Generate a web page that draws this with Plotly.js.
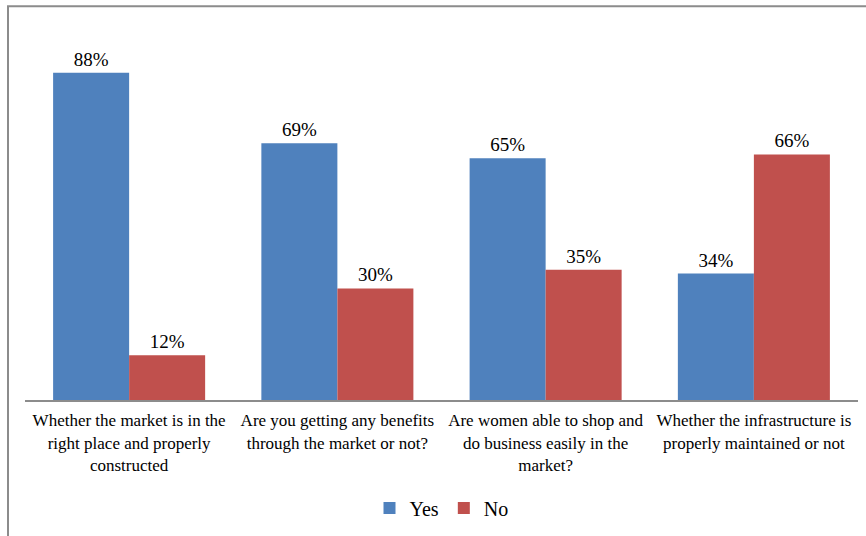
<!DOCTYPE html>
<html><head><meta charset="utf-8">
<script src="https://cdn.plot.ly/plotly-3.0.1.min.js"></script>
<style>html,body{margin:0;padding:0;background:#fff}#c{width:866px;height:536px}</style>
</head><body><div id="c"></div>
<script>
const categories = [
  "Whether the market is in the<br>right place and properly<br>constructed",
  "Are you getting any benefits<br>through the market or not?",
  "Are women able to shop and<br>do business easily in the<br>market?",
  "Whether the infrastructure is<br>properly maintained or not"
];
const yesValues = [88, 69, 65, 34];
const noValues = [12, 30, 35, 66];
const seriesNames = ["Yes", "No"];
const colors = ["#4F81BD", "#C0504D"];

const font = {family: "Liberation Serif, Times New Roman, serif", color: "#000"};
function mk(vals, i) {
  return {
    type: "bar", x: categories, y: vals, name: seriesNames[i],
    marker: {color: colors[i]},
    text: vals.map(v => v + "%"), textposition: "outside",
    textfont: Object.assign({size: 19}, font), cliponaxis: false,
    hoverinfo: "skip"
  };
}
const data = [mk(yesValues, 0), mk(noValues, 1)];
const layout = {
  width: 866, height: 536,
  margin: {l: 25, r: 8, t: 28, b: 133},
  paper_bgcolor: "#fff", plot_bgcolor: "#fff",
  barmode: "group", bargap: 0.27, bargroupgap: 0,
  font: Object.assign({size: 17}, font),
  showlegend: true,
  legend: {orientation: "h", x: 0.50, xanchor: "center", y: -0.29, yanchor: "middle",
           font: Object.assign({size: 20}, font), itemwidth: 30, traceorder: "normal"},
  xaxis: {showline: true, linecolor: "#8c8c8c", linewidth: 2, ticks: "", ticklabelstandoff: 4,
          tickfont: Object.assign({size: 17}, font), showgrid: false, zeroline: false},
  yaxis: {range: [0, 100], visible: false, showgrid: false, zeroline: false},
  shapes: [{type: "rect", xref: "paper", yref: "paper",
            x0: -0.0204, x1: 1.2, y0: -0.5, y1: 1.0587,
            line: {color: "#8c8c8c", width: 2}, fillcolor: "rgba(0,0,0,0)", layer: "below"}]
};
Plotly.newPlot("c", data, layout, {displayModeBar: false, staticPlot: true});
</script></body></html>
